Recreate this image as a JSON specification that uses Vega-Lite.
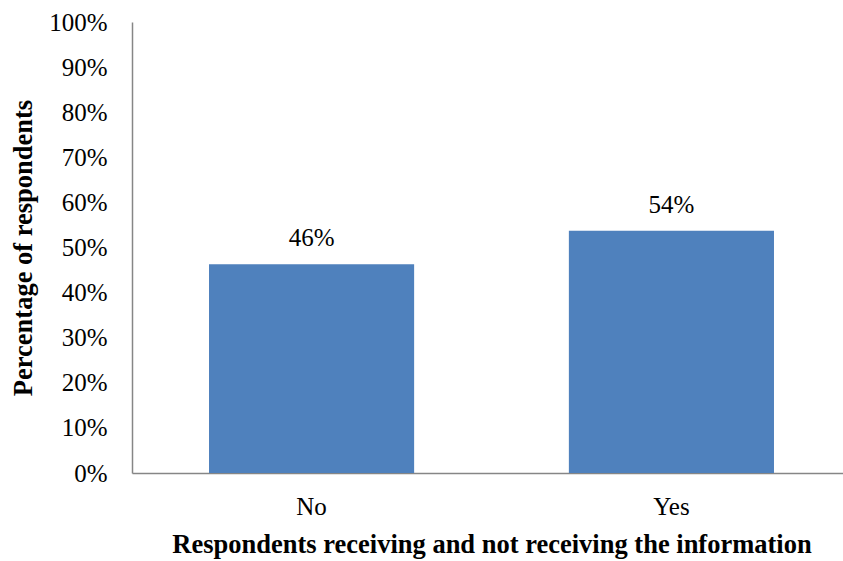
{
  "$schema": "https://vega.github.io/schema/vega-lite/v6.json",
  "width": 719,
  "height": 451,
  "autosize": "none",
  "padding": {"left": 132, "top": 22, "right": 0, "bottom": 88},
  "background": "white",
  "config": {"view": {"stroke": null}, "font": "Liberation Serif"},
  "data": {"values": [{"answer": "No", "pct": 0.463}, {"answer": "Yes", "pct": 0.537}]},
  "encoding": {
    "x": {
      "field": "answer", "type": "nominal", "sort": null,
      "scale": {"paddingInner": 0.43, "paddingOuter": 0.214},
      "axis": {
        "title": "Respondents receiving and not receiving the information",
        "labelAngle": 0, "labelFontSize": 25, "labelColor": "black", "labelPadding": 21,
        "ticks": false, "grid": false, "domainColor": "#868686", "domainWidth": 1.5,
        "titleFontSize": 26.5, "titleFontWeight": "bold", "titleColor": "black", "titlePadding": 12
      }
    },
    "y": {
      "field": "pct", "type": "quantitative",
      "scale": {"domain": [0, 1]},
      "axis": {
        "values": [0, 0.1, 0.2, 0.3, 0.4, 0.5, 0.6, 0.7, 0.8, 0.9, 1],
        "format": ".0%", "labelFontSize": 25, "labelColor": "black", "labelPadding": 25,
        "ticks": false, "grid": false, "domainColor": "#868686", "domainWidth": 1.5,
        "title": "Percentage of respondents", "titleFontSize": 26.5, "titleFontWeight": "bold",
        "titleColor": "black", "titlePadding": 11
      }
    }
  },
  "layer": [
    {"mark": {"type": "bar", "color": "#4F81BD"}},
    {
      "mark": {"type": "text", "baseline": "bottom", "dy": -13, "fontSize": 25, "font": "Liberation Serif", "color": "black"},
      "encoding": {"text": {"field": "pct", "type": "quantitative", "format": ".0%"}}
    }
  ]
}
